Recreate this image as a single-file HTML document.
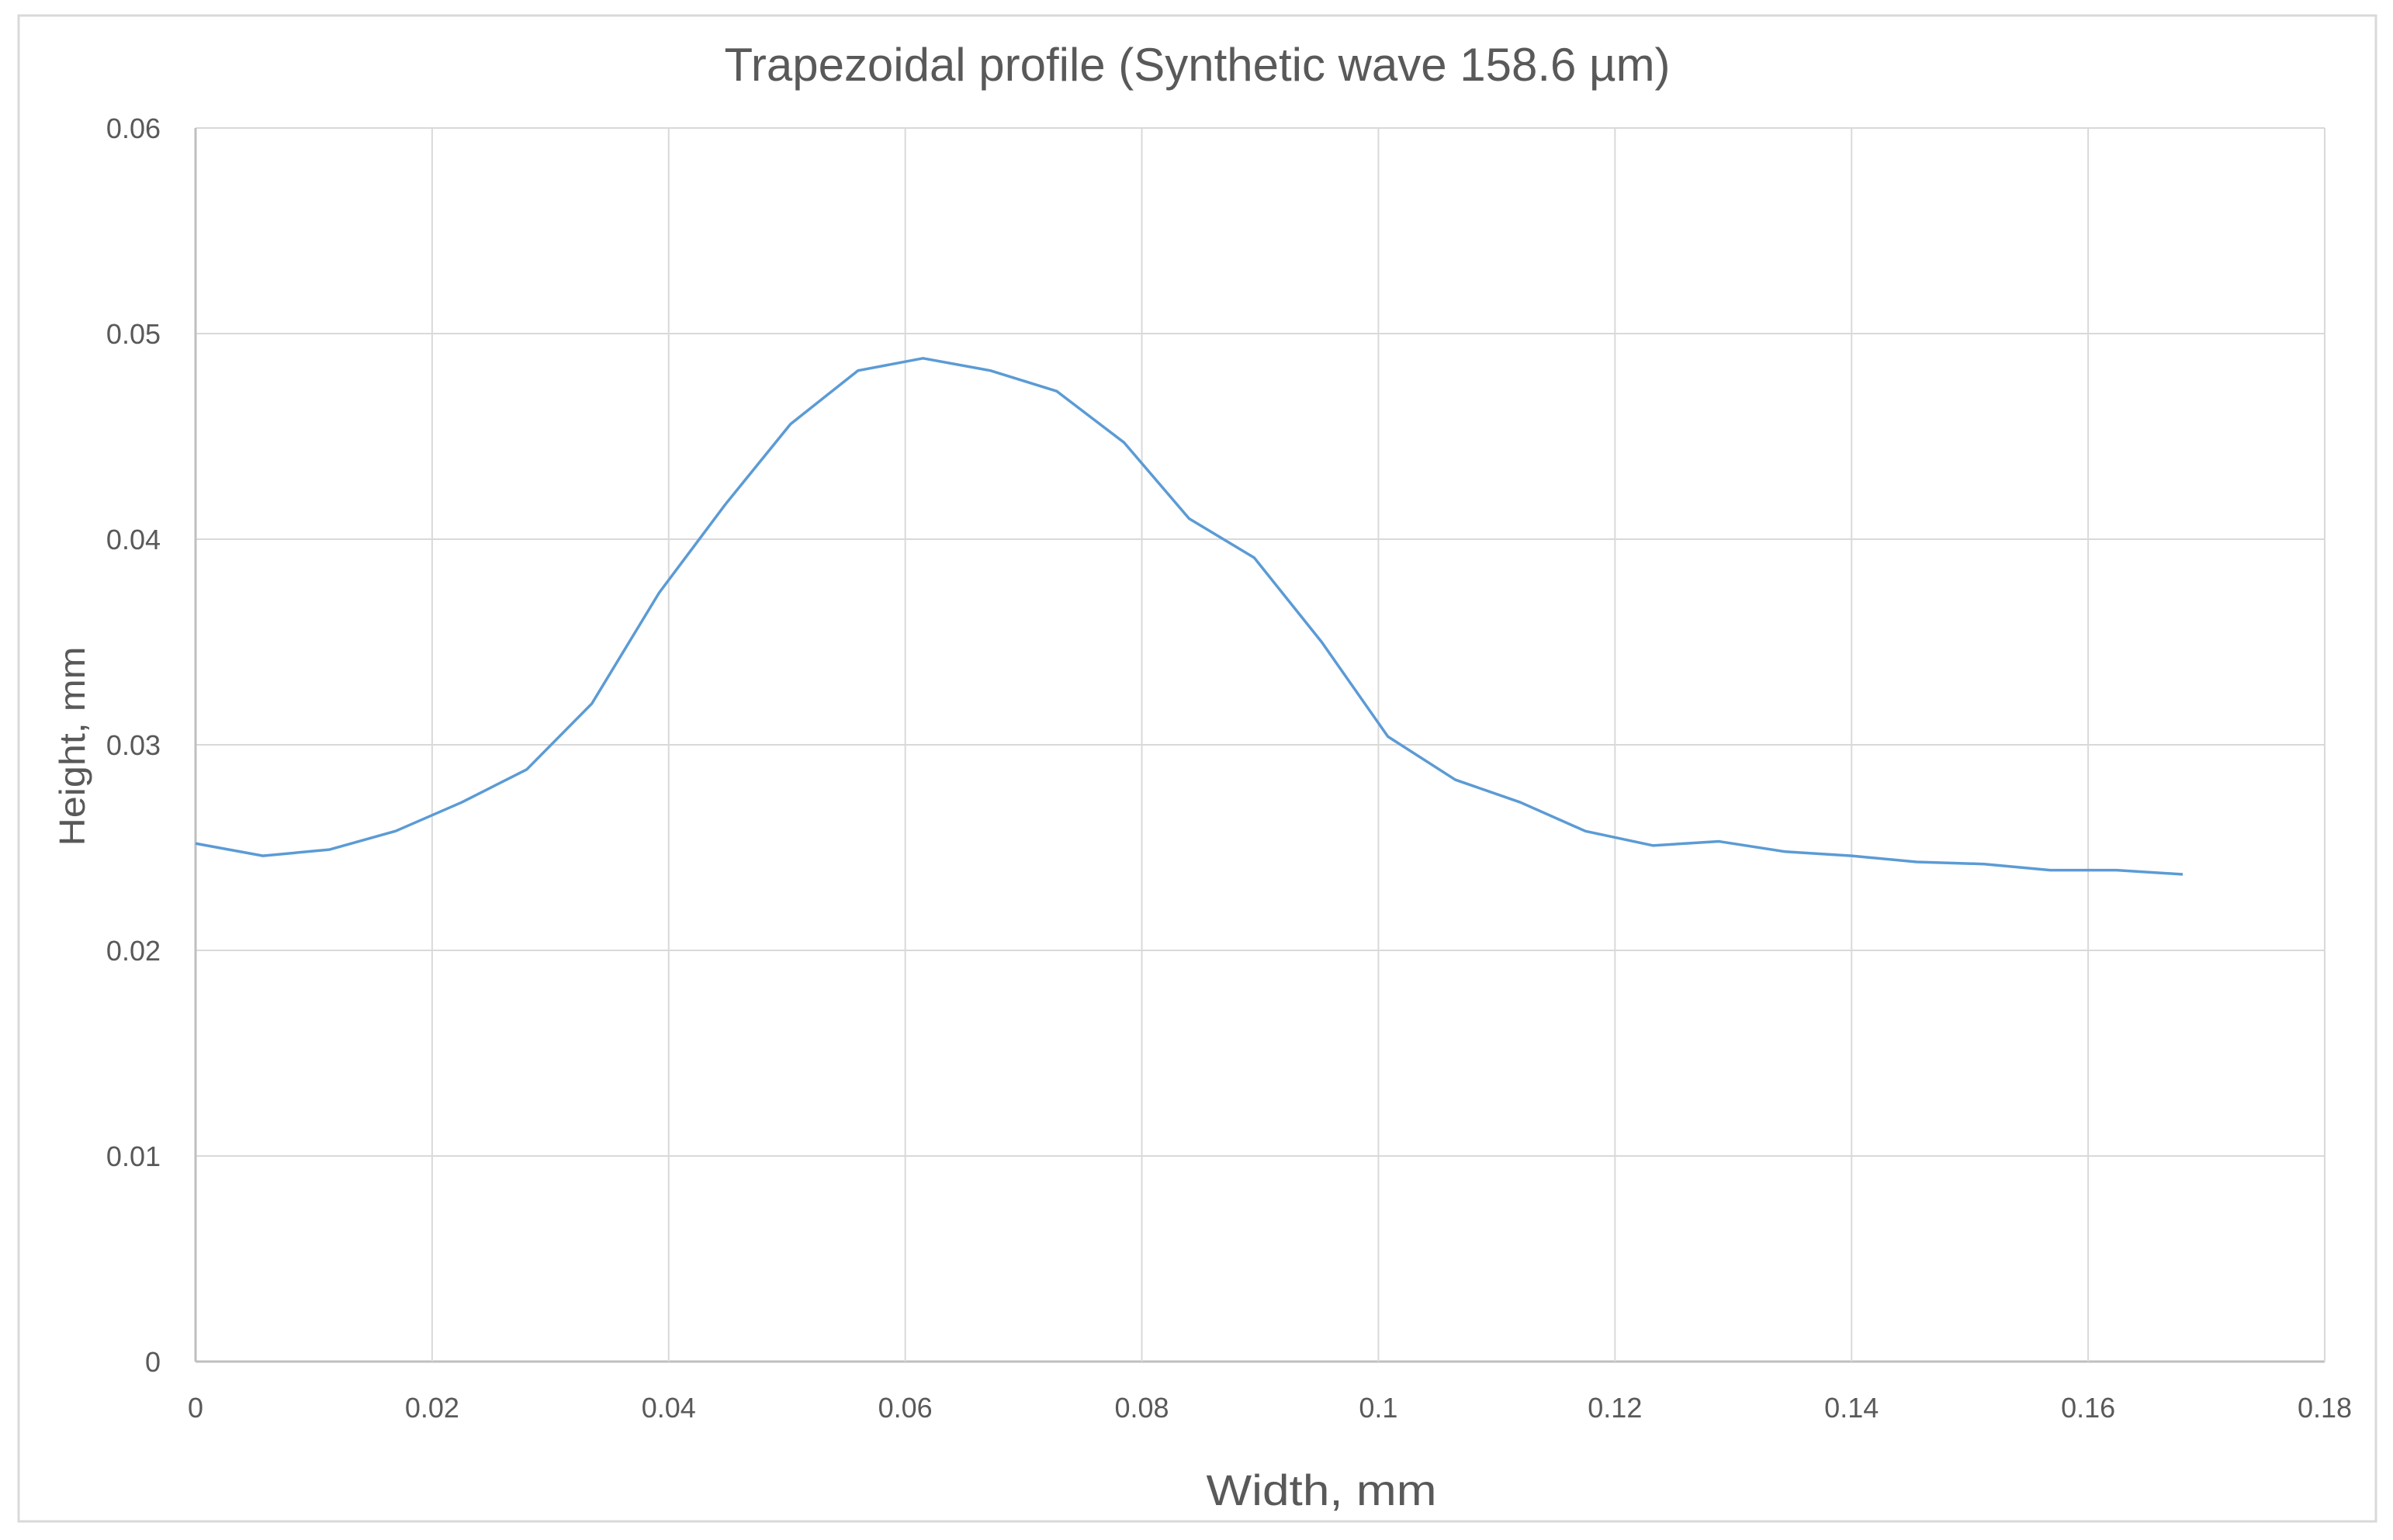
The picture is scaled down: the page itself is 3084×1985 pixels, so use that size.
<!DOCTYPE html>
<html><head><meta charset="utf-8"><style>
html,body{margin:0;padding:0;background:#fff;}
svg{display:block;font-family:"Liberation Sans",sans-serif;}
</style></head><body>
<svg id="chart" width="3084" height="1985" viewBox="0 0 3084 1985" xmlns="http://www.w3.org/2000/svg">
<rect x="24" y="20" width="3038" height="1941" fill="#fff" stroke="#d9d9d9" stroke-width="3"/>
<text x="1543" y="104" text-anchor="middle" font-size="60" fill="#595959" textLength="1219" lengthAdjust="spacingAndGlyphs">Trapezoidal profile (Synthetic wave 158.6 µm)</text>
<g id="grid"></g>
<g id="ticks"></g>
<g id="series"></g>
<text x="1703" y="1940" text-anchor="middle" font-size="56" fill="#595959" textLength="297" lengthAdjust="spacingAndGlyphs">Width, mm</text>
<text transform="translate(109,962) rotate(-90)" text-anchor="middle" font-size="46" fill="#595959" textLength="257" lengthAdjust="spacingAndGlyphs">Height, mm</text>
</svg>
<script>
const xTicks = [0,0.02,0.04,0.06,0.08,0.1,0.12,0.14,0.16,0.18];
const xTickLabels = ["0","0.02","0.04","0.06","0.08","0.1","0.12","0.14","0.16","0.18"];
const yTicks = [0,0.01,0.02,0.03,0.04,0.05,0.06];
const yTickLabels = ["0","0.01","0.02","0.03","0.04","0.05","0.06"];
const xValues = [0,0.0057,0.0113,0.0169,0.0225,0.028,0.0335,0.0392,0.0448,0.0503,0.056,0.0615,0.0672,0.0728,0.0785,0.084,0.0895,0.0952,0.1008,0.1065,0.112,0.1175,0.1232,0.1288,0.1344,0.14,0.1455,0.1512,0.1568,0.1624,0.168];
const yValues = [0.0252,0.0246,0.0249,0.0258,0.0272,0.0288,0.032,0.0374,0.0417,0.0456,0.0482,0.0488,0.0482,0.0472,0.0447,0.041,0.0391,0.035,0.0304,0.0283,0.0272,0.0258,0.0251,0.0253,0.0248,0.0246,0.0243,0.0242,0.0239,0.0239,0.0237];

const NS="http://www.w3.org/2000/svg";
const L=252,R=2996,T=165,B=1755;
function xs(v){return L+(v-0)/(0.18-0)*(R-L);}
function ys(v){return B-(v-0)/(0.06-0)*(B-T);}
function mk(tag,parent){const e=document.createElementNS(NS,tag);parent.appendChild(e);return e;}
const grid=document.getElementById('grid'),ticks=document.getElementById('ticks'),series=document.getElementById('series');
yTicks.forEach((v,i)=>{
  const l=mk('line',grid);
  
  
  l.setAttribute('x1',L);l.setAttribute('x2',R);l.setAttribute('y1',ys(v));l.setAttribute('y2',ys(v));
  l.setAttribute('stroke',i===0?'#bfbfbf':'#d9d9d9');l.setAttribute('stroke-width',i===0?3:2);
  const t=mk('text',ticks);
  
  
  t.setAttribute('x',207);t.setAttribute('y',ys(v)+13);t.setAttribute('text-anchor','end');
  t.setAttribute('font-size','36');t.setAttribute('fill','#595959');
  t.textContent=yTickLabels[i];
});
xTicks.forEach((v,i)=>{
  const l=mk('line',grid);
  
  
  l.setAttribute('x1',xs(v));l.setAttribute('x2',xs(v));l.setAttribute('y1',T);l.setAttribute('y2',B);
  l.setAttribute('stroke',i===0?'#bfbfbf':'#d9d9d9');l.setAttribute('stroke-width',i===0?3:2);
  const t=mk('text',ticks);
  
  
  t.setAttribute('x',xs(v));t.setAttribute('y',1827);t.setAttribute('text-anchor','middle');
  t.setAttribute('font-size','36');t.setAttribute('fill','#595959');
  t.textContent=xTickLabels[i];
});
const p=mk('polyline',series);


p.setAttribute('points',xValues.map((x,i)=>xs(x)+','+ys(yValues[i])).join(' '));
p.setAttribute('fill','none');p.setAttribute('stroke','#5b9bd5');p.setAttribute('stroke-width','3.5');p.setAttribute('stroke-linejoin','round');
</script>
</body></html>
